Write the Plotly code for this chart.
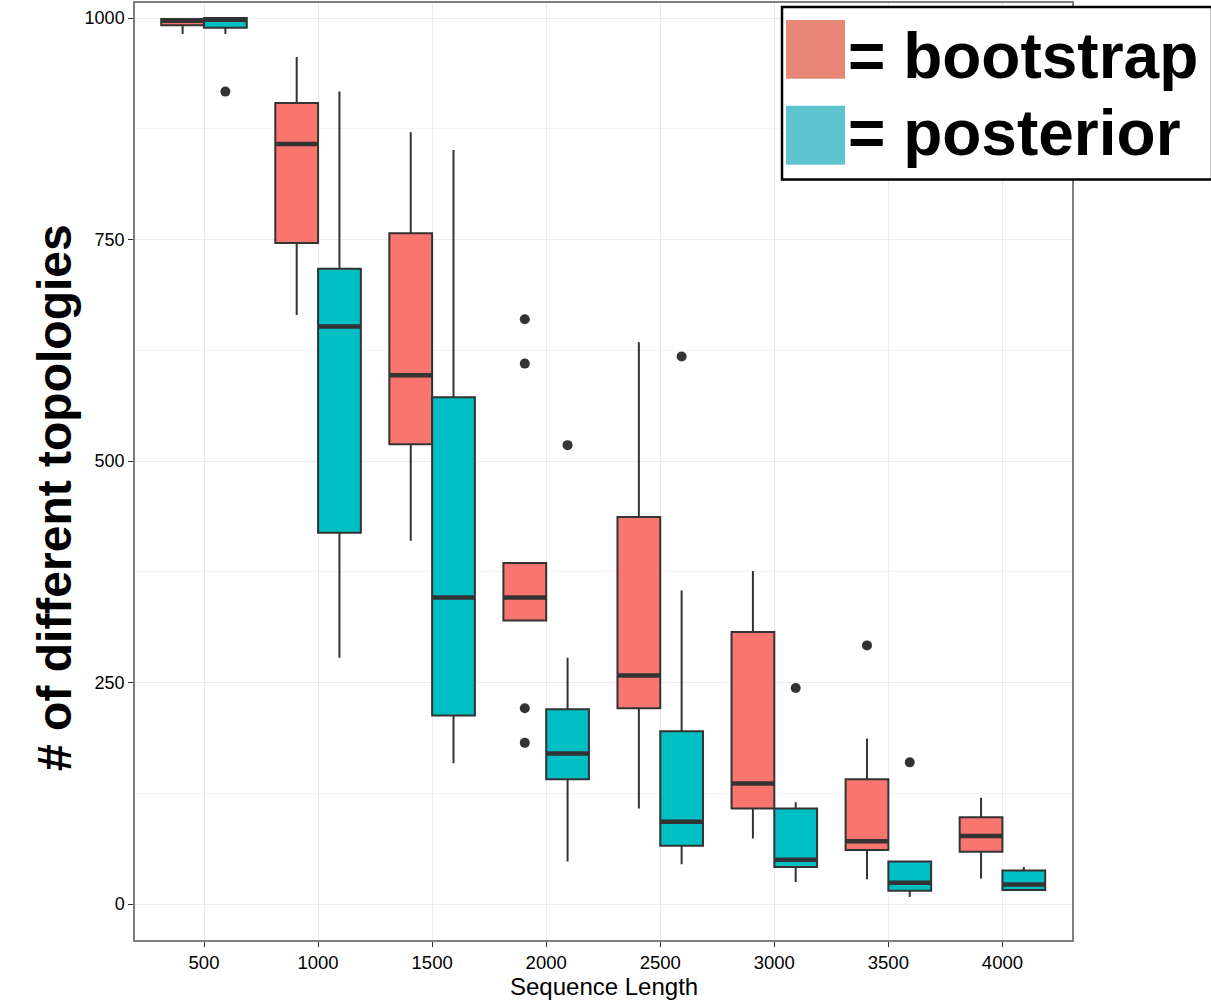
import plotly.graph_objects as go

# Sequence lengths (categories on the x axis)
seq_lengths = ["500", "1000", "1500", "2000", "2500", "3000", "3500", "4000"]

# Box statistics: number of different topologies, bootstrap
boot_lower = [982, 665, 410, 320, 108, 74, 28, 29]
boot_q1 = [992, 746, 519, 320, 221, 108, 61, 59]
boot_median = [997, 858, 597, 346, 258, 136, 71, 77]
boot_q3 = [999, 904, 757, 385, 437, 307, 141, 98]
boot_upper = [1000, 956, 871, 385, 634, 376, 187, 120]
boot_out_x = ["2000", "2000", "2000", "2000", "3500"]
boot_out_y = [660, 610, 221, 182, 292]

# Box statistics: number of different topologies, posterior
post_lower = [982, 278, 159, 48, 45, 25, 8, 16]
post_q1 = [989, 419, 213, 141, 66, 42, 15, 16]
post_median = [998, 652, 346, 170, 93, 50, 24, 22]
post_q3 = [1000, 717, 572, 220, 195, 108, 48, 38]
post_upper = [1000, 917, 851, 278, 354, 115, 48, 42]
post_out_x = ["500", "2000", "2500", "3000", "3500"]
post_out_y = [917, 518, 618, 244, 160]

BOOT_FILL = "#F8766D"
POST_FILL = "#00BFC4"
EDGE = "#333333"
BOX_W = 0.375          # dodge width of one box, in category units
OFF = BOX_W / 2

idx = {c: i for i, c in enumerate(seq_lengths)}

fig = go.Figure()


def add_group(offset, fill, lower, q1, med, q3, upper, out_x, out_y):
    xs = [i + offset for i in range(len(seq_lengths))]
    fig.add_trace(go.Box(
        x=xs, lowerfence=lower, q1=q1, median=med, q3=q3, upperfence=upper,
        width=BOX_W, whiskerwidth=0, fillcolor=fill,
        line=dict(color=EDGE, width=2), boxpoints=False,
        showlegend=False, hoverinfo="skip",
    ))
    # thicker median bars drawn on top of each box
    mx, my = [], []
    for x, m in zip(xs, med):
        mx += [x - OFF, x + OFF, None]
        my += [m, m, None]
    fig.add_trace(go.Scatter(
        x=mx, y=my, mode="lines", line=dict(color=EDGE, width=4.5),
        showlegend=False, hoverinfo="skip",
    ))
    fig.add_trace(go.Scatter(
        x=[idx[c] + offset for c in out_x], y=out_y, mode="markers",
        marker=dict(color=EDGE, size=10), showlegend=False, hoverinfo="skip",
    ))


add_group(-OFF, BOOT_FILL, boot_lower, boot_q1, boot_median, boot_q3,
          boot_upper, boot_out_x, boot_out_y)
add_group(OFF, POST_FILL, post_lower, post_q1, post_median, post_q3,
          post_upper, post_out_x, post_out_y)

L, R, T, B = 135, 139, 1, 65
W, H = 1211, 1005
pw, ph = W - L - R, H - T - B


def px_x(px):
    return (px - L) / pw


def px_y(py):
    return (H - B - py) / ph


fig.update_layout(
    width=W, height=H,
    margin=dict(l=L, r=R, t=T, b=B),
    paper_bgcolor="white", plot_bgcolor="white",
    boxmode="overlay",
    font=dict(family="Liberation Sans, Arial, sans-serif", color="black"),
    xaxis=dict(
        range=[-0.605, 7.61], tickmode="array",
        tickvals=list(range(len(seq_lengths))), ticktext=seq_lengths,
        tickfont=dict(size=18.5, color="black"),
        showgrid=True, gridcolor="#EBEBEB", gridwidth=1.2,
        zeroline=False, showline=True, mirror=True,
        linecolor="#7F7F7F", linewidth=1.5,
        ticks="outside", ticklen=5, tickcolor="#333333", tickwidth=1.2,
    ),
    yaxis=dict(
        range=[-40.5, 1017], tickmode="array",
        tickvals=[0, 250, 500, 750, 1000],
        tickfont=dict(size=18, color="black"),
        showgrid=True, gridcolor="#EBEBEB", gridwidth=1.2,
        minor=dict(tickvals=[125, 375, 625, 875], showgrid=True,
                   gridcolor="#F5F5F5", gridwidth=1),
        zeroline=False, showline=True, mirror=True,
        linecolor="#7F7F7F", linewidth=1.5,
        ticks="outside", ticklen=5, tickcolor="#333333", tickwidth=1.2,
    ),
)

# Axis titles
fig.add_annotation(
    text="Sequence Length", xref="paper", yref="paper",
    x=0.5, y=px_y(987), xanchor="center", yanchor="middle",
    showarrow=False, font=dict(size=24, color="black"),
)
fig.add_annotation(
    text="<b># of different topologies</b>", xref="paper", yref="paper",
    x=px_x(55), y=px_y(497), xanchor="center", yanchor="middle",
    textangle=-90, showarrow=False,
    font=dict(size=48, color="black", family="Liberation Sans, Arial, sans-serif"),
)

# Key box in the upper right corner
fig.add_shape(
    type="rect", xref="paper", yref="paper",
    x0=px_x(782), x1=px_x(1212), y0=px_y(178), y1=px_y(5),
    line=dict(color="black", width=2.5), fillcolor="white", layer="above",
)
for top, color in [(18, "#E88678"), (104, "#5EC5CF")]:
    fig.add_shape(
        type="rect", xref="paper", yref="paper",
        x0=px_x(786), x1=px_x(845), y0=px_y(top + 59), y1=px_y(top),
        line=dict(width=0), fillcolor=color, layer="above",
    )
for text, cy in [("= bootstrap", 54), ("= posterior", 131)]:
    fig.add_annotation(
        text="<b>" + text + "</b>", xref="paper", yref="paper",
        x=px_x(846), y=px_y(cy), xanchor="left", yanchor="middle",
        showarrow=False,
        font=dict(size=64, color="black", family="Liberation Sans, Arial, sans-serif"),
    )

fig.write_html("out.html")
